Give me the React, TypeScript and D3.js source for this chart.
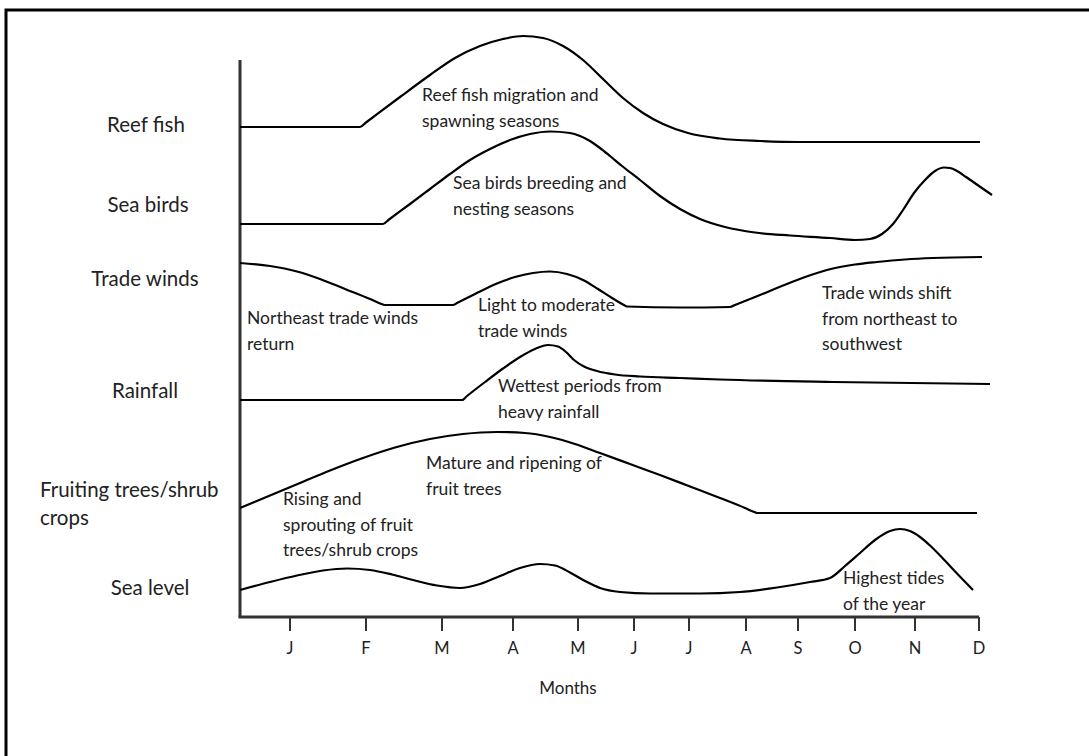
import React from "react";
import * as d3 from "d3";

// ---------- data (x: position along the year axis, y: relative level; both in chart units) ----------
const monthLabels = ["J", "F", "M", "A", "M", "J", "J", "A", "S", "O", "N", "D"];
const monthPositions = [10, 25.2, 40.4, 54.6, 67.6, 78.8, 89.8, 101.2, 111.6, 123, 135, 147.8];

const categories = ["Reef fish", "Sea birds", "Trade winds", "Rainfall", "Fruiting trees/shrub\ncrops", "Sea level"];
const categoryLevels = [98, 82, 67.2, 44.8, 25, 5.4];

const reefFish: [number, number][] = [
  [0, 98], [24, 98], [25.2, 98.9], [32, 104], [38, 108.4], [43, 111.8], [48, 114.2], [52.6, 115.6],
  [56.6, 116.2], [60.6, 115.8], [64.6, 114.2], [68.6, 111.4], [72.6, 107.6], [76.6, 103.8], [80.6, 100.8],
  [84.6, 98.6], [89.6, 96.8], [96, 95.7], [104, 95.2], [112, 95], [148, 95],
];
const seaBirds: [number, number][] = [
  [0, 78.6], [28.6, 78.6], [29.8, 79.5], [34, 82.6], [38, 85.6], [42, 88.6], [46, 91.4], [50, 93.6],
  [54, 95.4], [58, 96.6], [62, 97.1], [66, 96.8], [68, 96.2], [70, 95.2], [72, 93.8], [74, 92.2],
  [76.4, 90.2], [80, 87.4], [84, 84.2], [88, 81.6], [92, 79.6], [97, 78], [103, 76.9], [110, 76.3],
  [118, 75.8], [123, 75.4], [126, 75.6], [128.4, 76.6], [130.6, 78.6], [132.6, 81.4], [134.8, 84.8],
  [137, 87.4], [139, 89.2], [140.8, 89.9], [142, 89.8], [143.4, 89.2], [145.2, 88], [147.8, 86.2],
  [150.4, 84.4],
];
const tradeWinds: [number, number][] = [
  [0, 70.8], [6, 70.2], [11.4, 69.1], [16, 67.6], [21, 65.6], [26, 63.6], [28.6, 62.5], [29, 62.4],
  [42.6, 62.4], [43.4, 62.8], [47, 64.6], [51.4, 66.7], [55, 68], [58.6, 68.8], [62, 69.1], [65.4, 68.6],
  [68.6, 67.4], [71.6, 65.6], [74.4, 63.8], [76.8, 62.4], [77.4, 62.1], [88, 61.9], [98, 62], [99, 62.4],
  [104, 64.4], [108.6, 66.3], [113.6, 68.2], [118.6, 69.7], [123, 70.5], [127.4, 71], [133, 71.5],
  [138.6, 71.8], [148.4, 72],
];
const rainfall: [number, number][] = [
  [0, 43.4], [44.4, 43.4], [45.4, 44.2], [49, 47], [52.6, 49.7], [56, 52], [59, 53.6], [61.6, 54.4],
  [63.6, 54.1], [65.2, 53], [66.8, 51.4], [68.8, 50.1], [71.4, 49.2], [75, 48.5], [80, 48.1], [88, 47.8],
  [96, 47.5], [118.6, 47], [150, 46.6],
];
const fruitingTrees: [number, number][] = [
  [0, 21.8], [6, 24.3], [12, 26.8], [18, 29.3], [24.6, 31.8], [31, 33.9], [38, 35.6], [44.6, 36.6],
  [51.4, 37], [57, 36.8], [62, 36], [67, 34.6], [72, 32.8], [78, 30.6], [84, 28.4], [90, 26.1], [96, 23.8],
  [101, 21.8], [102.6, 21.1], [103.4, 20.8], [147.4, 20.8],
];
const seaLevel: [number, number][] = [
  [0, 5.4], [6, 7], [11.4, 8.3], [16.6, 9.3], [21.4, 9.7], [26, 9.4], [30.4, 8.5], [34.6, 7.4], [39.4, 6.3],
  [44, 5.8], [48, 6.6], [52, 8.2], [56, 9.8], [60, 10.6], [63, 10.3], [66, 8.9], [69, 7.2], [72, 5.8],
  [76, 5], [82, 4.7], [92, 4.7], [100, 5], [107.4, 5.9], [114, 7], [118, 7.8], [121, 10.2], [124, 12.8],
  [127, 15.4], [130, 17.2], [132, 17.6], [134, 17.2], [136, 16], [138, 14.3], [140.4, 11.9], [143.4, 8.7],
  [146.6, 5.4],
];
const seriesList = [reefFish, seaBirds, tradeWinds, rainfall, fruitingTrees, seaLevel];

const annotationTexts = [
  "Reef fish migration and\nspawning seasons",
  "Sea birds breeding and\nnesting seasons",
  "Northeast trade winds\nreturn",
  "Light to moderate\ntrade winds",
  "Trade winds shift\nfrom northeast to\nsouthwest",
  "Wettest periods from\nheavy rainfall",
  "Mature and ripening of\nfruit trees",
  "Rising and\nsprouting of fruit\ntrees/shrub crops",
  "Highest tides\nof the year",
];
const annotationX = [36.4, 42.6, 1.4, 47.6, 116.4, 51.6, 37.2, 8.6, 120.6];
const annotationY = [104, 86.4, 59.4, 62, 64.4, 45.8, 30.4, 23.2, 7.4];

const axisTitle = "Months";
const yAxisTop = 111.4;

// ---------- component ----------
export default function App() {
  const W = 1089;
  const H = 756;
  const x = d3.scaleLinear().domain([0, 148]).range([240, 980]);
  const y = d3.scaleLinear().domain([0, 120]).range([617, 17]);
  const line = d3
    .line<[number, number]>()
    .x((d) => x(d[0]))
    .y((d) => y(d[1]))
    .curve(d3.curveMonotoneX);

  const font = "Lato, 'Open Sans', sans-serif";
  const textColor = "#222";
  const labelCenters = [146, 148, 145, 145, 40, 150];
  const lineH = 25.5;
  const xEnd = monthPositions[monthPositions.length - 1];

  return (
    <svg width={W} height={H} style={{ position: "absolute", left: 0, top: 0, background: "#fff" }}>
      <rect x={6} y={10} width={1200} height={900} fill="#fff" stroke="#000" strokeWidth={3} />

      {/* axes */}
      <line x1={x(0)} x2={x(0)} y1={y(0)} y2={y(yAxisTop)} stroke="#333" strokeWidth={3} />
      <line x1={x(0) - 1.5} x2={x(xEnd)} y1={y(0)} y2={y(0)} stroke="#333" strokeWidth={3} />
      {monthPositions.map((m, i) => (
        <g key={i}>
          <line x1={x(m)} x2={x(m)} y1={y(0)} y2={y(0) + 14} stroke="#333" strokeWidth={2} />
          <text
            x={x(m)}
            y={y(0) + 33}
            textAnchor="middle"
            dominantBaseline="middle"
            fontFamily={font}
            fontSize={16.5}
            fill={textColor}
          >
            {monthLabels[i]}
          </text>
        </g>
      ))}
      <text x={568} y={690} textAnchor="middle" dominantBaseline="middle" fontFamily={font} fontSize={17} fill={textColor}>
        {axisTitle}
      </text>

      {/* series */}
      {seriesList.map((s, i) => (
        <path key={i} d={line(s) || ""} fill="none" stroke="#000" strokeWidth={2.2} />
      ))}

      {/* category labels */}
      {categories.map((c, i) => {
        const parts = c.split("\n");
        const multi = parts.length > 1;
        return (
          <text
            key={i}
            x={labelCenters[i]}
            y={y(categoryLevels[i])}
            textAnchor={multi ? "start" : "middle"}
            dominantBaseline="middle"
            fontFamily={font}
            fontSize={20.5}
            fill={textColor}
          >
            {parts.map((p, j) => (
              <tspan key={j} x={labelCenters[i]} dy={j === 0 ? 0 : 28}>
                {p}
              </tspan>
            ))}
          </text>
        );
      })}

      {/* annotations */}
      {annotationTexts.map((t, i) => (
        <text
          key={i}
          x={x(annotationX[i])}
          y={y(annotationY[i])}
          dominantBaseline="middle"
          fontFamily={font}
          fontSize={17.5}
          fill={textColor}
        >
          {t.split("\n").map((p, j) => (
            <tspan key={j} x={x(annotationX[i])} dy={j === 0 ? 0 : lineH}>
              {p}
            </tspan>
          ))}
        </text>
      ))}
    </svg>
  );
}
